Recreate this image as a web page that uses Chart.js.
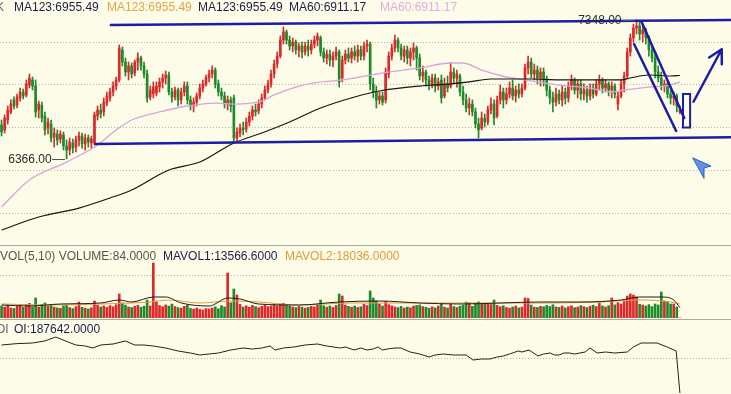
<!DOCTYPE html>
<html>
<head>
<meta charset="utf-8">
<script src="https://cdn.jsdelivr.net/npm/chart.js@4.4.1/dist/chart.umd.min.js"></script>
<style>
  html, body { margin: 0; padding: 0; background: #fcfce8; overflow: hidden; }
  #wrap { position: relative; width: 731px; height: 394px; background: #fcfce8; }
  canvas, .sep { position: absolute; left: 0; }
  .sep { width: 731px; height: 1px; background: #a9a99c; }
</style>
</head>
<body>
<div id="wrap">
  <canvas id="price" width="731" height="245" style="top:0"></canvas>
  <div class="sep" style="top:245px"></div>
  <canvas id="vol" width="731" height="72" style="top:246px"></canvas>
  <div class="sep" style="top:319px"></div>
  <canvas id="oi" width="731" height="74" style="top:320px"></canvas>
</div>
<script>
// candles: [open, high, low, close], one per bar
const candles = [
  [6606,6641,6528,6556], [6571,6677,6549,6655], [6641,6740,6613,6712], [6698,6783,6684,6754], [6783,6804,6719,6740],
  [6747,6825,6726,6804], [6797,6867,6775,6839], [6839,6860,6790,6811], [6818,6924,6804,6896], [6888,6966,6867,6938],
  [6924,6945,6853,6881], [6881,6924,6662,6698], [6712,6775,6655,6754], [6747,6768,6627,6655], [6669,6698,6535,6571],
  [6585,6655,6542,6627], [6613,6641,6486,6514], [6521,6585,6450,6549], [6542,6571,6465,6500], [6507,6564,6479,6542],
  [6535,6556,6429,6458], [6458,6500,6366,6429], [6429,6514,6394,6486], [6479,6507,6408,6443], [6450,6528,6415,6500],
  [6500,6556,6458,6528], [6528,6549,6443,6472], [6472,6542,6429,6514], [6514,6535,6450,6486], [6479,6528,6443,6507],
  [6479,6698,6465,6677], [6669,6740,6641,6712], [6712,6754,6655,6684], [6698,6797,6669,6768], [6761,6839,6740,6811],
  [6797,6867,6775,6839], [6839,6910,6811,6881], [6881,6945,6853,6924], [6924,7171,6910,7150], [7136,7157,7023,7051],
  [7051,7079,6952,6980], [6980,7051,6924,7023], [7023,7044,6938,6966], [6973,7065,6952,7051], [7051,7115,6994,7079],
  [7079,7093,6994,7023], [7023,7051,6938,6966], [6966,6994,6768,6797], [6804,6881,6783,6853], [6825,6910,6797,6874],
  [6832,6910,6811,6881], [6874,6938,6839,6910], [6910,6966,6867,6938], [6938,6987,6896,6959], [6959,6980,6818,6839],
  [6839,6867,6768,6804], [6804,6874,6783,6853], [6853,6867,6740,6783], [6783,6867,6754,6839], [6839,6910,6811,6881],
  [6881,6910,6754,6783], [6783,6811,6712,6740], [6740,6797,6698,6768], [6768,6832,6740,6811], [6811,6896,6790,6867],
  [6867,6924,6839,6896], [6896,6959,6881,6938], [6938,6994,6910,6966], [6966,7023,6938,6994], [6994,7009,6867,6896],
  [6896,6924,6811,6839], [6839,6867,6783,6811], [6811,6839,6726,6754], [6754,6811,6712,6783], [6783,6804,6698,6740],
  [6797,6818,6479,6514], [6514,6585,6486,6556], [6549,6613,6521,6585], [6585,6627,6535,6571], [6578,6655,6556,6627],
  [6627,6698,6599,6669], [6669,6740,6641,6712], [6712,6754,6669,6698], [6705,6783,6684,6754], [6754,6825,6726,6797],
  [6797,6881,6783,6853], [6853,6924,6832,6896], [6896,6994,6874,6966], [6966,7065,6938,7037], [7037,7122,7009,7093],
  [7093,7235,7079,7206], [7206,7298,7178,7263], [7263,7277,7178,7206], [7206,7235,7136,7164], [7164,7221,7122,7192],
  [7192,7206,7107,7136], [7136,7185,7086,7164], [7164,7192,7079,7122], [7122,7192,7100,7164], [7164,7206,7093,7136],
  [7136,7206,7107,7178], [7178,7235,7150,7206], [7206,7256,7164,7235], [7221,7235,7093,7122], [7122,7150,7051,7079],
  [7079,7136,7037,7107], [7107,7136,7023,7065], [7065,7122,7016,7093], [7093,7157,7065,7122], [7122,7136,6874,6910],
  [6938,7093,6910,7065], [7065,7136,7037,7107], [7107,7150,7051,7079], [7079,7150,7044,7122], [7122,7164,7065,7093],
  [7093,7171,7051,7136], [7136,7164,7065,7093], [7093,7192,7065,7164], [7164,7206,7122,7178], [7178,7192,6853,6896],
  [6896,6938,6797,6839], [6839,6881,6726,6783], [6783,6839,6754,6811], [6811,6839,6747,6768], [6783,7009,6761,6980],
  [6966,7122,6938,7093], [7093,7178,7065,7150], [7150,7242,7122,7206], [7206,7221,7122,7150], [7150,7178,7065,7093],
  [7093,7164,7051,7136], [7136,7164,7037,7079], [7079,7150,7023,7122], [7122,7185,7065,7150], [7150,7164,6994,7079],
  [7079,7107,6924,6952], [6952,7023,6910,6980], [6980,6994,6881,6924], [6924,6952,6853,6896], [6896,6966,6867,6938],
  [6938,6966,6839,6881], [6881,6938,6853,6910], [6924,6959,6761,6797], [6811,6938,6797,6896], [6896,6952,6839,6867],
  [6881,7044,6867,6980], [6980,7009,6896,6938], [6938,6994,6874,6966], [6952,6966,6811,6839], [6839,6881,6747,6783],
  [6783,6825,6698,6726], [6726,6797,6677,6754], [6754,6783,6669,6698], [6698,6726,6585,6613], [6613,6655,6514,6571],
  [6585,6698,6571,6655], [6655,6684,6592,6627], [6627,6740,6606,6712], [6712,6797,6684,6754], [6754,6783,6606,6655],
  [6669,6811,6655,6783], [6783,6888,6754,6839], [6839,6867,6726,6783], [6783,6867,6754,6825], [6825,6910,6797,6867],
  [6867,6924,6783,6811], [6811,6881,6768,6853], [6853,6896,6797,6825], [6825,6896,6804,6867], [6867,7037,6853,7009],
  [7009,7093,6966,7051], [7051,7079,6938,6966], [6966,7037,6924,6994], [6994,7023,6896,6938], [6938,7009,6881,6980],
  [6980,7009,6881,6924], [6924,6952,6811,6853], [6853,6881,6754,6797], [6797,6839,6698,6768], [6768,6867,6740,6825],
  [6825,6853,6754,6783], [6783,6881,6740,6839], [6839,6867,6754,6797], [6797,6910,6768,6881], [6881,6959,6853,6924],
  [6924,6938,6825,6853], [6853,6924,6797,6896], [6896,6924,6783,6825], [6825,6896,6783,6853], [6853,6881,6768,6811],
  [6811,6896,6783,6867], [6867,6896,6797,6825], [6825,6924,6811,6896], [6896,6959,6853,6924], [6924,6938,6832,6867],
  [6867,6924,6839,6896], [6896,6910,6811,6853], [6853,6910,6797,6881], [6881,6896,6797,6825], [6754,6839,6712,6811],
  [6811,6924,6797,6896], [6896,6980,6839,6952], [6952,7150,6938,7122], [7122,7249,7093,7221], [7221,7319,7192,7291],
  [7291,7348,7249,7305], [7305,7334,7206,7249], [7249,7305,7192,7277], [7277,7291,7178,7221], [7221,7235,7093,7136],
  [7136,7164,7051,7079], [7079,7107,6938,6980], [6980,7023,6910,6938], [6938,6980,6853,6881], [6881,6924,6839,6896],
  [6896,6910,6797,6825], [6825,6853,6754,6797], [6797,6839,6747,6811], [6811,6825,6698,6740], [6698,6740,6684,6712]
];

const volumes = [
  15600, 14300, 16900, 13000, 12400, 15100, 16200, 13800, 17500, 19000, 14500, 26000,
  14200, 17800, 19600, 15300, 16800, 14100, 13200, 12600, 15800,
  16400, 13600, 12200, 14800, 20800, 13900, 12700, 11800, 13300, 22100,
  16500, 14200, 15700, 13900, 16100, 14600, 17200, 31200,
  19500, 16800, 14300, 13500, 15200, 16600, 14000, 15400, 23400, 15600, 71500,
  21400, 16200, 14700, 17000, 15500, 18100, 14900,
  13600, 12800, 15200, 16900, 12400, 11600, 12900,
  11200, 10400, 12300, 11800, 13100, 14600, 12000, 16100, 14300, 58500, 19800, 37700, 29900,
  17600, 14200, 15800, 13900, 16400, 14800, 13400, 15100,
  16700, 14900, 15600, 17300, 16000, 18200,
  19100, 17400, 15800, 14300, 13600, 15000, 14100, 12800, 13900, 15200, 14400, 16500, 23400,
  15900, 14200, 15600, 13700, 16300, 31200, 28600,
  16800, 15100, 14000, 15700, 13800, 14600, 17900, 16200, 35100, 26000, 22100, 18200, 15600, 21500,
  17300, 15800, 14400, 13600, 15100, 12900, 14200, 13300, 15500, 16200,
  17000, 14800, 13900, 12700, 14500, 13200, 15600, 18400, 14100, 13000, 17800, 14900, 13600, 15400, 16800, 20700,
  19800, 15200, 19400, 21000, 18600, 17700, 18900, 17500, 23400,
  16400, 14800, 15900, 13600, 12800, 14300, 15600, 13200, 14100, 26000, 25400,
  16800, 14100, 13700, 15200, 14600, 16300, 15000, 17200, 14400, 13800, 15600, 13100, 14700, 15900, 13500,
  14200, 16100, 14800, 13600, 15300, 16600, 14900, 19500, 15700, 14300, 16000, 26000,
  17100, 19900, 18200, 21300, 28600, 31200, 29900, 27300,
  17800, 16900, 15600, 17400, 14800, 18200, 16900, 33800, 22100, 20800, 18200, 18200, 14300, 84
];

// moving averages: [bar index, value]
const ma60 = [
  [0, 6027], [9, 6217], [21, 6344], [31, 6465], [37, 6571], [42, 6641], [51, 6698], [60, 6740],
  [69, 6761], [75, 6754], [84, 6775], [88, 6818], [95, 6874], [101, 6903], [110, 6924], [114, 6938],
  [125, 6980], [135, 7009], [145, 7044], [149, 7044], [155, 6994], [163, 6945], [169, 6924], [180, 6888],
  [190, 6867], [197, 6839], [201, 6853], [209, 6874], [216, 6888], [219, 6911.17]
];
const ma123 = [
  [0, 5864], [12, 5956], [25, 6019], [35, 6090], [42, 6147], [54, 6288], [64, 6344], [75, 6479],
  [84, 6549], [93, 6627], [103, 6726], [114, 6804], [122, 6846], [135, 6881], [145, 6896], [151, 6910],
  [158, 6931], [171, 6931], [180, 6924], [200, 6924], [203, 6938], [209, 6959], [216, 6952], [219, 6955.49]
];
const mavol1 = [
  [0, 16900], [9, 15600], [19, 18200], [32, 19500], [38, 23400], [42, 20800], [49, 27300], [53, 27300],
  [58, 19500], [67, 15600], [73, 26000], [77, 24700], [83, 18200], [96, 16900], [109, 20800], [122, 22100],
  [135, 19500], [148, 18200], [161, 19500], [174, 20800], [187, 20800], [200, 23400], [206, 27300],
  [213, 27300], [217, 23400], [219, 13566.6]
];
const mavol2 = [
  [0, 18200], [16, 16900], [32, 18200], [48, 20800], [54, 23400], [64, 19500], [74, 22100], [83, 20800],
  [96, 16900], [113, 19500], [129, 19500], [145, 19500], [161, 19500], [177, 19500], [193, 20800],
  [206, 23400], [216, 20800], [219, 18036]
];
const openInterest = [
  [0, 436800], [5, 444000], [10, 447200], [14, 458000], [17.5, 478400], [21.5, 452400], [24, 436800],
  [27, 431600], [29.5, 421200], [32, 436800], [36, 442000], [40, 457600], [43, 436800], [46, 436800],
  [49, 431600], [53, 421200], [57, 405600], [61, 395200], [64, 384800], [67, 390000], [70, 395200],
  [74, 410800], [78, 421200], [81, 416000], [84, 421200], [86.7, 431600], [88.3, 410800], [91, 421200],
  [94.4, 426400], [98, 436800], [102, 442000], [105, 431600], [109.3, 421200], [111, 426400],
  [113.8, 410800], [116, 421200], [118, 410800], [120, 416000], [121.5, 426400], [123, 410800],
  [124.5, 416000], [127, 421200], [129, 421200], [131.9, 400400], [135, 390000], [138, 374400],
  [140, 384800], [142.5, 390000], [146, 384800], [150, 384800], [152.2, 358800], [155, 364000],
  [157.7, 364000], [160, 374400], [162, 379600], [164, 390000], [166.8, 405600], [168, 400400],
  [170.3, 410800], [173.2, 379600], [175, 390000], [177.1, 395200], [178.5, 384800], [180, 384800],
  [181.5, 395200], [183.2, 395200], [185, 390000], [188.4, 400400], [190, 421200], [192.3, 395200],
  [195, 400400], [198, 395200], [202, 400400], [204, 426400], [206.5, 447200], [211.6, 447200],
  [214.9, 426400], [217.8, 405600], [219, 187642]
];

// hand drawn lines on the price panel: [bar, price, bar, price]
const trendLines = [
  [35.3, 7312, 235.5, 7348],
  [30.2, 6472, 235.5, 6519],
  [206.5, 7341, 220.4, 6655],
  [204.2, 7178, 217.8, 6564]
];
const box = [220.0, 6825, 222.3, 6588];
const arrow = [223.4, 6770, 232.5, 7141];

const priceGrid = [7192, 6889, 6586, 6283, 5980];
const volGrid = [55900];
const oiGrid = [369200];

const SLOTS = 236;
const UP = '#dc2a2a';
const DOWN = '#1f8a2a';
const NAVY = '#1e1e4c';
const FONT = "12px 'Liberation Sans', Arial, sans-serif";

const candleColors = candles.map(c => (c[3] >= c[0] ? UP : DOWN));
const pts = arr => arr.map(p => ({ x: p[0], y: p[1] }));

function baseOptions(min, max, grid) {
  return {
    responsive: false,
    animation: false,
    events: [],
    layout: { padding: 0 },
    plugins: { legend: { display: false }, tooltip: { enabled: false } },
    scales: {
      x: { type: 'linear', min: -0.5, max: SLOTS - 0.5, offset: false, display: false, grid: { offset: false } },
      y: {
        min: min,
        max: max,
        ticks: { display: false },
        grid: { color: '#b3b3a2', drawTicks: false, lineWidth: 1 },
        border: { display: false, dash: [1, 2] },
        afterBuildTicks: s => { s.ticks = grid.map(v => ({ value: v })); }
      }
    }
  };
}

function header(id, items, y) {
  return {
    id: id,
    afterDraw(chart) {
      const ctx = chart.ctx;
      ctx.save();
      ctx.font = FONT;
      ctx.textBaseline = 'middle';
      items.forEach(t => {
        ctx.fillStyle = t[2];
        ctx.fillText(t[0], t[1], y);
      });
      ctx.restore();
    }
  };
}

const drawings = {
  id: 'drawings',
  afterDatasetsDraw(chart) {
    const { ctx, scales: { x, y } } = chart;
    const X = v => x.getPixelForValue(v);
    const Y = v => y.getPixelForValue(v);
    ctx.save();
    ctx.strokeStyle = '#1c1ca6';
    ctx.lineWidth = 2.5;
    ctx.lineCap = 'round';
    trendLines.forEach(l => {
      ctx.beginPath();
      ctx.moveTo(X(l[0]), Y(l[1]));
      ctx.lineTo(X(l[2]), Y(l[3]));
      ctx.stroke();
    });
    ctx.lineWidth = 2;
    ctx.strokeRect(X(box[0]), Y(box[1]), X(box[2]) - X(box[0]), Y(box[3]) - Y(box[1]));
    const x1 = X(arrow[0]), y1 = Y(arrow[1]), x2 = X(arrow[2]), y2 = Y(arrow[3]);
    const ang = Math.atan2(y2 - y1, x2 - x1);
    ctx.lineWidth = 2.5;
    ctx.beginPath();
    ctx.moveTo(x1, y1);
    ctx.lineTo(x2, y2);
    [-0.5, 0.5].forEach(d => {
      ctx.moveTo(x2, y2);
      ctx.lineTo(x2 - 15 * Math.cos(ang + d), y2 - 15 * Math.sin(ang + d));
    });
    ctx.stroke();

    // max / min price markers
    const highs = candles.map(c => c[1]);
    const lows = candles.map(c => c[2]);
    const hi = Math.max(...highs);
    const lo = Math.min(...lows);
    ctx.font = FONT;
    ctx.textAlign = 'right';
    ctx.textBaseline = 'middle';
    ctx.fillStyle = '#2c2c2c';
    ctx.strokeStyle = '#555';
    ctx.lineWidth = 1;
    [[highs.indexOf(hi), hi], [lows.indexOf(lo), lo]].forEach(m => {
      const px = X(m[0]);
      const py = Math.round(Y(m[1])) + 0.5;
      ctx.fillText(m[1].toFixed(2), px - 15, py);
      ctx.beginPath();
      ctx.moveTo(px - 14, py);
      ctx.lineTo(px - 2, py);
      ctx.stroke();
    });

    // mouse pointer
    ctx.beginPath();
    ctx.moveTo(693, 158);
    ctx.lineTo(711, 166);
    ctx.lineTo(704, 168);
    ctx.lineTo(704, 178);
    ctx.closePath();
    ctx.fillStyle = '#5f92e2';
    ctx.fill();
    ctx.strokeStyle = '#2f5fbf';
    ctx.stroke();
    ctx.restore();
  }
};

const last = a => a[a.length - 1][1];

new Chart(document.getElementById('price'), {
  type: 'bar',
  data: {
    datasets: [
      { type: 'line', data: pts(ma123), borderColor: '#161616', borderWidth: 1.2, pointRadius: 0, cubicInterpolationMode: 'monotone', order: 0 },
      { type: 'line', data: pts(ma60), borderColor: '#d7a4dc', borderWidth: 1.3, pointRadius: 0, cubicInterpolationMode: 'monotone', order: 0 },
      { data: candles.map((c, i) => ({ x: i, y: [c[0], c[3]] })), backgroundColor: candleColors, barThickness: 2, grouped: false, borderWidth: 0, order: 1 },
      { data: candles.map((c, i) => ({ x: i, y: [c[2], c[1]] })), backgroundColor: candleColors, barThickness: 1, grouped: false, borderWidth: 0, order: 2 }
    ]
  },
  options: baseOptions(5758, 7489, priceGrid),
  plugins: [drawings, header('priceHeader', [
    ['K', -4, '#666'],
    ['MA123:' + last(ma123).toFixed(2), 14, NAVY],
    ['MA123:' + last(ma123).toFixed(2), 107, '#e6a545'],
    ['MA123:' + last(ma123).toFixed(2), 198, NAVY],
    ['MA60:' + last(ma60).toFixed(2), 289, NAVY],
    ['MA60:' + last(ma60).toFixed(2), 380, '#e2ace2']
  ], 8)]
});

new Chart(document.getElementById('vol'), {
  type: 'bar',
  data: {
    datasets: [
      { type: 'line', data: pts(mavol1), borderColor: '#1e1e1e', borderWidth: 1, pointRadius: 0, cubicInterpolationMode: 'monotone', order: 0 },
      { type: 'line', data: pts(mavol2), borderColor: '#e39a3c', borderWidth: 1, pointRadius: 0, cubicInterpolationMode: 'monotone', order: 0 },
      { data: volumes.map((v, i) => ({ x: i, y: v })), backgroundColor: candleColors, barThickness: 2, borderWidth: 0, order: 1 }
    ]
  },
  options: baseOptions(0, 93600, volGrid),
  plugins: [header('volHeader', [
    ['VOL(5,10) VOLUME:' + volumes[volumes.length - 1].toFixed(4), 0, '#555'],
    ['MAVOL1:' + last(mavol1).toFixed(4), 163, NAVY],
    ['MAVOL2:' + last(mavol2).toFixed(4), 285, '#e39a3c']
  ], 10.5)]
});

new Chart(document.getElementById('oi'), {
  type: 'line',
  data: {
    datasets: [
      { data: pts(openInterest), borderColor: '#222', borderWidth: 1, pointRadius: 0, tension: 0 }
    ]
  },
  options: baseOptions(182000, 566800, oiGrid),
  plugins: [header('oiHeader', [
    ['OI', -4, '#666'],
    ['OI:' + last(openInterest).toFixed(4), 14, NAVY]
  ], 10)]
});
</script>
</body>
</html>
